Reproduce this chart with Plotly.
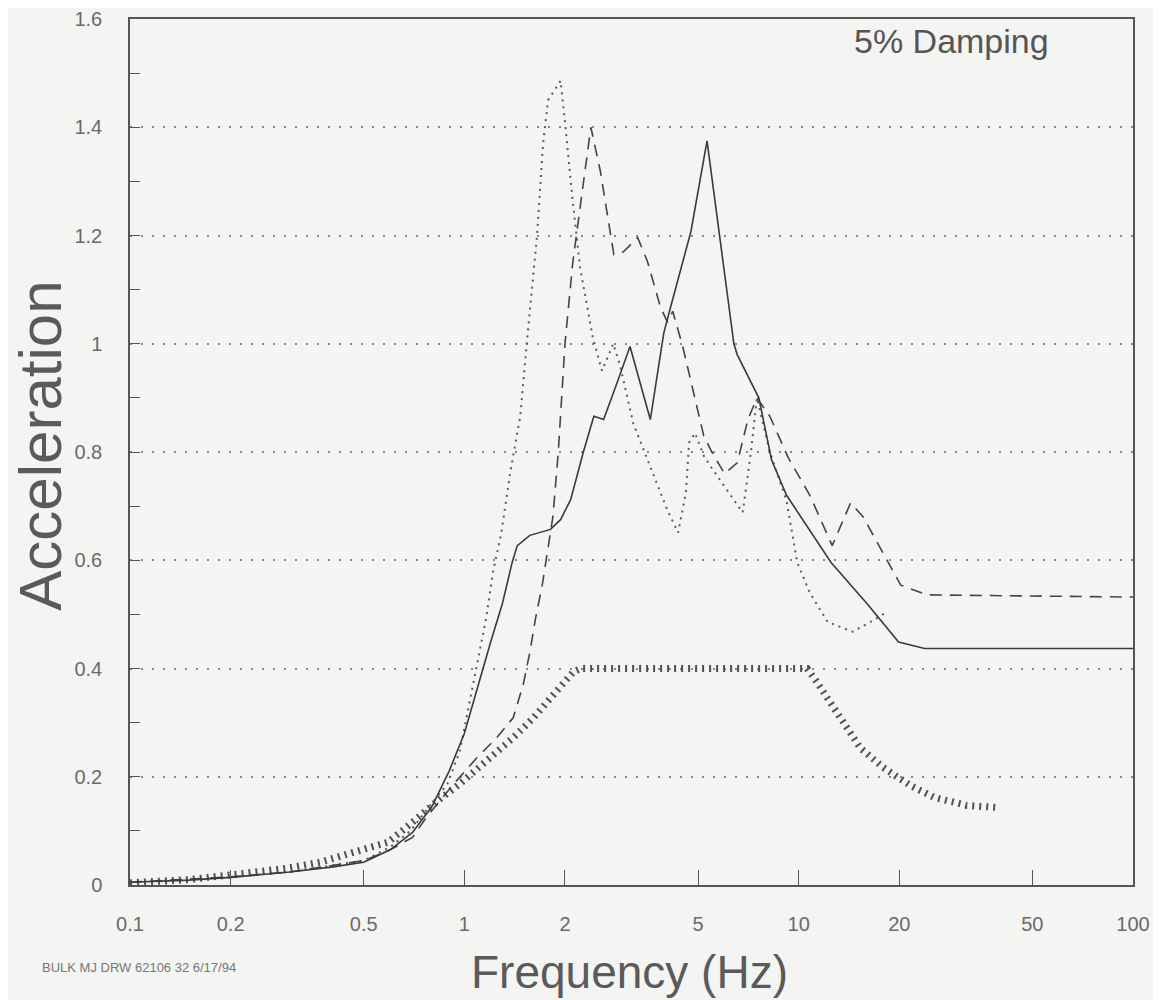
import plotly.graph_objects as go

# ---- data ----
solid_f = [0.1, 0.15, 0.2, 0.3, 0.4, 0.5, 0.6, 0.7, 0.8, 0.9, 1.0, 1.1, 1.2, 1.3, 1.39, 1.44, 1.57,
           1.81, 1.94, 2.08, 2.27, 2.44, 2.61, 2.86, 3.13, 3.6, 3.95, 4.14, 4.76, 5.32, 6.4, 6.55,
           7.6, 8.3, 9.2, 12.5, 16.0, 19.9, 23.8, 100]
solid_v = [0.005, 0.009, 0.014, 0.024, 0.033, 0.042, 0.065, 0.097, 0.145, 0.21, 0.28, 0.37, 0.45,
           0.52, 0.596, 0.627, 0.646, 0.657, 0.675, 0.712, 0.80, 0.866, 0.86, 0.927, 0.995, 0.86,
           1.02, 1.068, 1.207, 1.375, 1.0, 0.98, 0.9, 0.785, 0.72, 0.596, 0.52, 0.449, 0.437, 0.437]

dashed_f = [0.1, 0.2, 0.3, 0.5, 0.6, 0.7, 0.77, 0.93, 1.09, 1.25, 1.40, 1.5, 1.57, 1.63, 1.71, 1.75,
            1.84, 1.91, 1.97, 2.0, 2.11, 2.25, 2.39, 2.55, 2.7, 2.8, 2.99, 3.3, 3.53, 3.86, 4.05,
            4.2, 4.5, 4.8, 5.2, 5.5, 6.0, 6.55, 7.05, 7.5, 8.2, 9.3, 10.8, 12.6, 14.3, 15.6, 18.0,
            20.2, 24.2, 100]
dashed_v = [0.005, 0.015, 0.024, 0.045, 0.065, 0.088, 0.125, 0.187, 0.235, 0.272, 0.309, 0.37, 0.43,
            0.49, 0.554, 0.596, 0.68, 0.80, 0.927, 1.0, 1.15, 1.275, 1.40, 1.32, 1.226, 1.165, 1.17,
            1.196, 1.152, 1.068, 1.04, 1.06, 0.995, 0.92, 0.83, 0.80, 0.76, 0.78, 0.86, 0.90, 0.866,
            0.79, 0.72, 0.627, 0.706, 0.68, 0.61, 0.554, 0.536, 0.532]

dotted_f = [0.1, 0.2, 0.3, 0.5, 0.6, 0.69, 0.77, 0.89, 0.97, 1.06, 1.16, 1.22, 1.29, 1.37, 1.47,
            1.54, 1.65, 1.72, 1.78, 1.94, 2.0, 2.1, 2.22, 2.42, 2.58, 2.79, 2.93, 3.2, 3.6, 4.04,
            4.36, 4.6, 4.7, 4.9, 5.2, 5.5, 6.8, 7.2, 7.5, 8.2, 9.2, 9.9, 10.8, 12.2, 14.5, 16.4, 18.4]
dotted_v = [0.005, 0.015, 0.024, 0.045, 0.07, 0.10, 0.138, 0.187, 0.248, 0.37, 0.49, 0.58, 0.65,
            0.76, 0.866, 1.006, 1.20, 1.37, 1.45, 1.486, 1.41, 1.275, 1.14, 1.013, 0.95, 1.0, 0.957,
            0.853, 0.774, 0.694, 0.651, 0.725, 0.817, 0.835, 0.793, 0.77, 0.688, 0.80, 0.90, 0.80,
            0.71, 0.596, 0.54, 0.486, 0.468, 0.486, 0.505]

design_f = [0.1, 0.15, 0.209, 0.295, 0.37, 0.47, 0.59, 0.66, 0.74, 0.85, 0.97, 1.14, 1.40, 1.61,
            1.85, 2.12, 2.23, 10.6, 11.3, 13.1, 15.3, 17.9, 21.7, 25.4, 31.8, 40]
design_v = [0.004, 0.01, 0.02, 0.031, 0.042, 0.06, 0.079, 0.103, 0.13, 0.16, 0.187, 0.224, 0.272,
            0.309, 0.352, 0.394, 0.40, 0.40, 0.376, 0.315, 0.253, 0.217, 0.183, 0.162, 0.147, 0.143]

x_tickvals = [0.1, 0.2, 0.5, 1, 2, 5, 10, 20, 50, 100]
x_ticktext = ["0.1", "0.2", "0.5", "1", "2", "5", "10", "20", "50", "100"]
y_tickvals = [0, 0.2, 0.4, 0.6, 0.8, 1.0, 1.2, 1.4, 1.6]
y_ticktext = ["0", "0.2", "0.4", "0.6", "0.8", "1", "1.2", "1.4", "1.6"]
y_minor = [0.1, 0.3, 0.5, 0.7, 0.9, 1.1, 1.3, 1.5]

FONT = "Liberation Sans"
BG = "#f4f4f2"

fig = go.Figure()
fig.add_trace(go.Scatter(x=design_f, y=design_v, mode="lines",
                         line=dict(color="#505050", width=7, dash="2px,5px"), showlegend=False))
fig.add_trace(go.Scatter(x=dotted_f, y=dotted_v, mode="lines",
                         line=dict(color="#5a5a5a", width=2, dash="2px,5px"), showlegend=False))
fig.add_trace(go.Scatter(x=dashed_f, y=dashed_v, mode="lines",
                         line=dict(color="#444444", width=1.6, dash="12px,8px"), showlegend=False))
fig.add_trace(go.Scatter(x=solid_f, y=solid_v, mode="lines",
                         line=dict(color="#3a3a3a", width=1.6), showlegend=False))

fig.update_layout(
    width=1153, height=992,
    margin=dict(l=122, r=28, t=11, b=115, autoexpand=False),
    paper_bgcolor=BG, plot_bgcolor=BG,
    font=dict(family=FONT, color="#666666"),
    xaxis=dict(type="log", range=[-1, 2], tickvals=x_tickvals, ticktext=x_ticktext,
               automargin=False, ticklabeloverflow="allow",
               showgrid=False, zeroline=False, showline=True, linecolor="#555555", linewidth=1.5,
               mirror=True, ticks="inside", ticklen=15, tickcolor="#555555", tickwidth=1,
               tickfont=dict(size=20, color="#6a6a6a"), ticklabelstandoff=20),
    yaxis=dict(range=[0, 1.6], tickvals=y_tickvals, ticktext=y_ticktext, automargin=False,
               ticklabeloverflow="allow",
               showgrid=True, gridcolor="#888888", gridwidth=2, griddash="2px,9px",
               zeroline=False, showline=True, linecolor="#555555", linewidth=1.5, mirror=True,
               ticks="inside", ticklen=10, tickcolor="#555555", tickwidth=1,
               minor=dict(tickvals=y_minor, ticks="inside",
                          ticklen=10, tickcolor="#555555", showgrid=False),
               tickfont=dict(size=20, color="#6a6a6a"), ticklabelstandoff=22),
)

fig.add_annotation(text="Frequency (Hz)", xref="paper", yref="paper", x=0.4985, y=-0.10,
                   xanchor="center", yanchor="middle", showarrow=False,
                   font=dict(family=FONT, size=46, color="#5a5a5a"))
fig.add_annotation(text="Acceleration", xref="paper", yref="paper", x=-0.089, y=0.507,
                   xanchor="center", yanchor="middle", textangle=-90, showarrow=False,
                   font=dict(family=FONT, size=60, color="#5a5a5a"))
fig.add_annotation(text="5% Damping", xref="paper", yref="paper", x=0.8195, y=0.975,
                   xanchor="center", yanchor="middle", showarrow=False,
                   font=dict(family=FONT, size=34, color="#555555"))
fig.add_annotation(text="BULK MJ DRW 62106 32 6/17/94", xref="paper", yref="paper", x=-0.0897,
                   y=-0.0952, xanchor="left", yanchor="middle", showarrow=False,
                   font=dict(family=FONT, size=13, color="#777777"))

fig.write_html("out.html")
